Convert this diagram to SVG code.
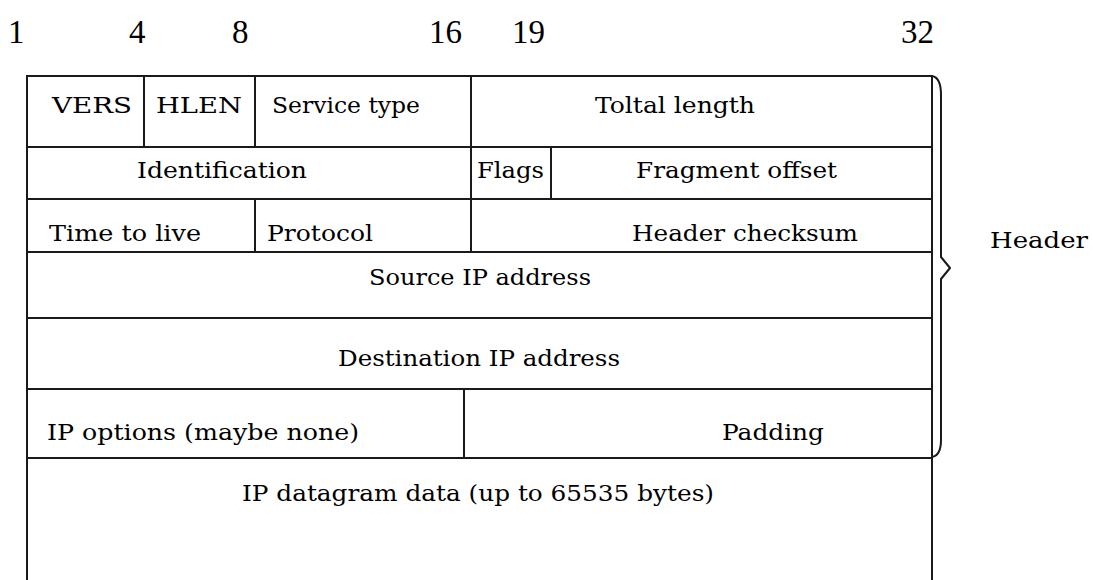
<svg xmlns="http://www.w3.org/2000/svg" width="1093" height="580" viewBox="0 0 1093 580">
  <style>
    .cell { fill: #ffffff; stroke: #1a1a1a; stroke-width: 2; }
    .open { fill: none; stroke: #1a1a1a; stroke-width: 2; }
    .lbl { font-family: "DejaVu Serif", "Liberation Serif", serif; font-size: 23px; fill: #000000; }
    .bit { font-family: "Liberation Serif", "Times New Roman", serif; font-size: 33px; fill: #000000; }
    .brace { fill: none; stroke: #1a1a1a; stroke-width: 2; stroke-linejoin: round; }
  </style>
  <rect width="1093" height="580" fill="#ffffff"/>

  <!-- bit position ruler -->
  <g id="bit-ruler">
    <text class="bit" x="8" y="43">1</text>
    <text class="bit" x="129" y="43">4</text>
    <text class="bit" x="232" y="43">8</text>
    <text class="bit" x="429" y="43">16</text>
    <text class="bit" x="512" y="43">19</text>
    <text class="bit" x="934" y="43" text-anchor="end">32</text>
  </g>

  <!-- word 1 -->
  <g id="vers">
    <rect class="cell" x="27" y="76" width="117" height="71"/>
    <text class="lbl" x="52" y="113" textLength="80" lengthAdjust="spacingAndGlyphs">VERS</text>
  </g>
  <g id="hlen">
    <rect class="cell" x="144" y="76" width="111" height="71"/>
    <text class="lbl" x="156" y="113" textLength="86" lengthAdjust="spacingAndGlyphs">HLEN</text>
  </g>
  <g id="service-type">
    <rect class="cell" x="255" y="76" width="216" height="71"/>
    <text class="lbl" x="272" y="113" textLength="148" lengthAdjust="spacingAndGlyphs">Service type</text>
  </g>
  <g id="total-length">
    <rect class="cell" x="471" y="76" width="461" height="71"/>
    <text class="lbl" x="595" y="113" textLength="160" lengthAdjust="spacingAndGlyphs">Toltal length</text>
  </g>

  <!-- word 2 -->
  <g id="identification">
    <rect class="cell" x="27" y="147" width="444" height="52"/>
    <text class="lbl" x="137" y="178" textLength="170" lengthAdjust="spacingAndGlyphs">Identification</text>
  </g>
  <g id="flags">
    <rect class="cell" x="471" y="147" width="80" height="52"/>
    <text class="lbl" x="477" y="178" textLength="67" lengthAdjust="spacingAndGlyphs">Flags</text>
  </g>
  <g id="fragment-offset">
    <rect class="cell" x="551" y="147" width="381" height="52"/>
    <text class="lbl" x="636" y="178" textLength="201" lengthAdjust="spacingAndGlyphs">Fragment offset</text>
  </g>

  <!-- word 3 -->
  <g id="time-to-live">
    <rect class="cell" x="27" y="199" width="228" height="53"/>
    <text class="lbl" x="49" y="241" textLength="152" lengthAdjust="spacingAndGlyphs">Time to live</text>
  </g>
  <g id="protocol">
    <rect class="cell" x="255" y="199" width="216" height="53"/>
    <text class="lbl" x="267" y="241" textLength="106" lengthAdjust="spacingAndGlyphs">Protocol</text>
  </g>
  <g id="header-checksum">
    <rect class="cell" x="471" y="199" width="461" height="53"/>
    <text class="lbl" x="632" y="241" textLength="226" lengthAdjust="spacingAndGlyphs">Header checksum</text>
  </g>

  <!-- words 4 and 5 -->
  <g id="source-ip">
    <rect class="cell" x="27" y="252" width="905" height="66"/>
    <text class="lbl" x="369" y="285" textLength="222" lengthAdjust="spacingAndGlyphs">Source IP address</text>
  </g>
  <g id="destination-ip">
    <rect class="cell" x="27" y="318" width="905" height="71"/>
    <text class="lbl" x="338" y="366" textLength="282" lengthAdjust="spacingAndGlyphs">Destination IP address</text>
  </g>

  <!-- word 6 -->
  <g id="ip-options">
    <rect class="cell" x="27" y="389" width="437" height="69"/>
    <text class="lbl" x="47" y="440" textLength="312" lengthAdjust="spacingAndGlyphs">IP options (maybe none)</text>
  </g>
  <g id="padding">
    <rect class="cell" x="464" y="389" width="468" height="69"/>
    <text class="lbl" x="722" y="440" textLength="102" lengthAdjust="spacingAndGlyphs">Padding</text>
  </g>

  <!-- payload, open at the bottom -->
  <g id="datagram-data">
    <path class="open" d="M27,590 V458 H932 V590"/>
    <text class="lbl" x="242" y="501" textLength="472" lengthAdjust="spacingAndGlyphs">IP datagram data (up to 65535 bytes)</text>
  </g>

  <!-- brace grouping the header words -->
  <g id="connectors">
    <path class="brace" d="M932,76 C938,77 941,84 941,95 L941,257 L950,268 L941,279 L941,440 C941,451 938,456 932,457"/>
  </g>
  <g id="header-label">
    <text class="lbl" x="990" y="248" textLength="98" lengthAdjust="spacingAndGlyphs">Header</text>
  </g>
</svg>
